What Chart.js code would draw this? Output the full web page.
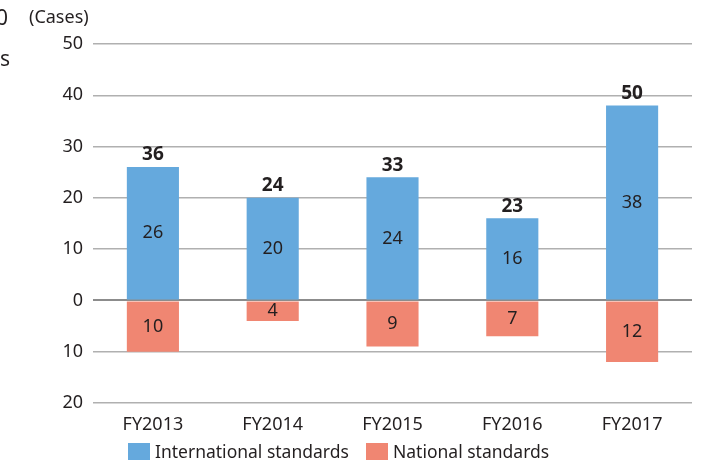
<!DOCTYPE html>
<html>
<head>
<meta charset="utf-8">
<script src="https://cdn.jsdelivr.net/npm/chart.js@4"></script>
<style>
  body { margin: 0; background: #fff; font-family: "Noto Sans", sans-serif; color: #231f20; }
  #wrap { position: relative; width: 712px; height: 465px; overflow: hidden; }
  .txt { position: absolute; white-space: nowrap; }
  .legend { position: absolute; top: 439px; font-size: 17.5px; display: flex; align-items: center; }
  .box { display: inline-block; width: 22px; height: 17px; margin-right: 5px; }
</style>
</head>
<body>
<div id="wrap">
  <canvas id="chart" width="712" height="465"></canvas>
  <div class="txt" style="left:-4px; top:3px; font-size:21px;">0</div>
  <div class="txt" style="left:0px; top:44px; font-size:21px;">s</div>
  <div class="txt" style="left:29px; top:4px; font-size:18px;">(Cases)</div>
  <div class="legend" style="left:128px;"><span class="box" style="background:#65a9dd"></span>International standards</div>
  <div class="legend" style="left:366px;"><span class="box" style="background:#f08672"></span>National standards</div>
</div>
<script>
const years = ["FY2013", "FY2014", "FY2015", "FY2016", "FY2017"];
const international = [26, 20, 24, 16, 38];
const national = [10, 4, 9, 7, 12];
const yTicks = [-20, -10, 0, 10, 20, 30, 40, 50];

const blue = "#65a9dd";
const red = "#f08672";
const ink = "#231f20";

// numbers inside bars + totals on top
const labelPlugin = {
    id: "labels",
    afterDatasetsDraw(chart) {
        const ctx = chart.ctx;
        ctx.save();
        ctx.fillStyle = ink;
        ctx.textAlign = "center";
        ctx.textBaseline = "middle";
        chart.data.datasets.forEach((ds, i) => {
            const meta = chart.getDatasetMeta(i);
            meta.data.forEach((bar, j) => {
                ctx.font = "18px 'Noto Sans'";
                ctx.fillText(Math.abs(ds.data[j]), bar.x, (bar.y + bar.base) / 2);
                if (i === 0) {
                    ctx.font = "bold 19px 'Noto Sans'";
                    ctx.fillText(international[j] + national[j], bar.x, bar.y - 12);
                }
            });
        });
        ctx.restore();
    }
};

new Chart(document.getElementById("chart"), {
    type: "bar",
    data: {
        labels: years,
        datasets: [
            { label: "International standards", data: international, backgroundColor: blue },
            { label: "National standards", data: national.map(v => -v), backgroundColor: red }
        ]
    },
    options: {
        responsive: false,
        animation: false,
        layout: { padding: { left: 0, right: 20, top: 44, bottom: 32 } },
        datasets: { bar: { categoryPercentage: 1, barPercentage: 0.435 } },
        plugins: { legend: { display: false }, tooltip: { enabled: false } },
        scales: {
            x: {
                stacked: true,
                grid: { display: false },
                border: { display: false },
                ticks: { color: ink, font: { family: "Noto Sans", size: 18 }, padding: 3 },
                afterFit(s) { s.height = 30; }
            },
            y: {
                stacked: true,
                min: -20,
                max: 50,
                afterBuildTicks(s) { s.ticks = yTicks.map(v => ({ value: v })); },
                grid: {
                    drawTicks: false,
                    color: c => c.tick && c.tick.value === 0 ? "#8c8c8c" : "#b0b0b0",
                    lineWidth: c => c.tick && c.tick.value === 0 ? 2 : 1.5
                },
                border: { display: false },
                ticks: {
                    color: ink,
                    font: { family: "Noto Sans", size: 18 },
                    padding: 10,
                    callback: v => Math.abs(v)
                },
                afterFit(s) { s.width = 93; }
            }
        }
    },
    plugins: [labelPlugin]
});
</script>
</body>
</html>
